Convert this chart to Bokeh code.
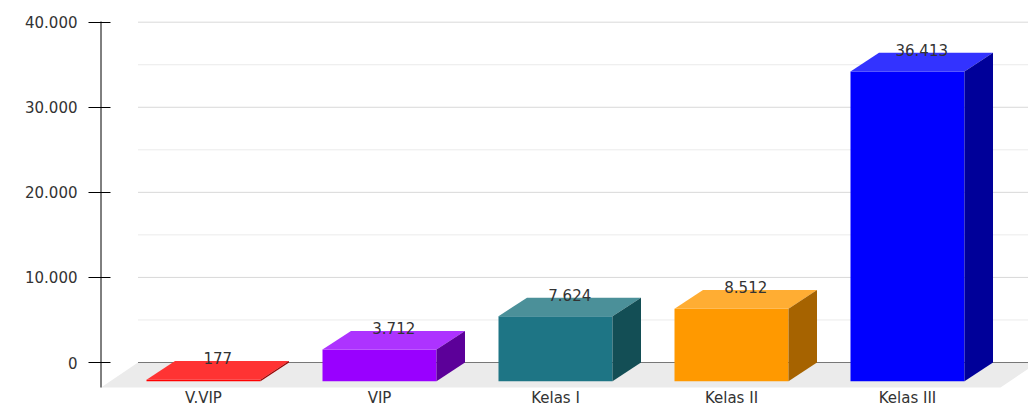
from bokeh.plotting import figure
from bokeh.models import FixedTicker, Range1d
from bokeh.core.properties import value
from bokeh.embed import file_html
from bokeh.resources import INLINE

# ---- data ----
categories = ["V.VIP", "VIP", "Kelas I", "Kelas II", "Kelas III"]
values = [177, 3712, 7624, 8512, 36413]
value_labels = ["177", "3.712", "7.624", "8.512", "36.413"]
front_colors = ["#FF0000", "#9900FF", "#1E7585", "#FF9900", "#0000FF"]
top_colors = ["#FF3333", "#AD33FF", "#4B9099", "#FFAD33", "#3333FF"]
side_colors = ["#990000", "#5C0099", "#134E55", "#A66300", "#000099"]
y_ticks = [0, 10000, 20000, 30000, 40000]
y_tick_labels = ["0", "10.000", "20.000", "30.000", "40.000"]
minor_grid = [5000, 15000, 25000, 35000]

FONT = "DejaVu Sans"
TXT = "#333333"
FS = "15px"

W, H = 1028, 408
frame_left = 99
cat_px = 176.0          # px per category unit
x0_px = 203.0           # canvas x of category 0 centre
u = 1.0 / cat_px        # one pixel in x units
x_start = (frame_left - x0_px) / cat_px
x_end = (W - x0_px) / cat_px

ppu = 340.3 / 40000.0   # px per value unit
zero_px = 362.0         # canvas y of back-wall zero
y_end = 40000 + (zero_px - 340.3) / ppu
y_start = -(H - zero_px) / ppu
vy = 1.0 / ppu          # one pixel in y units

p = figure(width=W, height=H, output_backend="svg", toolbar_location=None,
           x_range=Range1d(x_start, x_end), y_range=Range1d(y_start, y_end),
           min_border_left=frame_left, min_border_right=0, min_border_top=0,
           min_border_bottom=0, x_axis_location=None)
p.outline_line_color = None
p.background_fill_color = "white"
p.border_fill_color = "white"
p.xgrid.visible = False
p.ygrid.visible = False

ax = p.yaxis[0]
ax.ticker = FixedTicker(ticks=y_ticks)
ax.major_label_overrides = {t: l for t, l in zip(y_ticks, y_tick_labels)}
ax.axis_line_color = None
ax.major_tick_out = 11
ax.major_tick_in = 11
ax.major_tick_line_color = "#000000"
ax.minor_tick_line_color = None
ax.major_label_standoff = 11
ax.major_label_text_font = FONT
ax.major_label_text_font_size = FS
ax.major_label_text_color = TXT

# geometry (pixels -> data units)
floor_dx = 37 * u
floor_dy = 25 * vy
bar_w = 114 * u
bar_dx = 28.5 * u
bar_dy = 18.7 * vy
axis_x = x_start + 1.5 * u
floor_right = x_start + 901 * u

# floor
p.patch([axis_x, floor_right, floor_right + floor_dx, axis_x + floor_dx],
        [-floor_dy, -floor_dy, 0, 0], fill_color="#EBEBEB", line_color=None)

# grid lines on back wall
gx0 = axis_x + floor_dx
p.segment(x0=[gx0] * len(minor_grid), y0=minor_grid, x1=[x_end] * len(minor_grid), y1=minor_grid,
          line_color="#EBEBEB", line_width=1)
major = [t for t in y_ticks if t > 0]
p.segment(x0=[gx0] * len(major), y0=major, x1=[x_end] * len(major), y1=major,
          line_color="#D9D9D9", line_width=1)
p.segment(x0=[gx0], y0=[0], x1=[x_end], y1=[0], line_color="#777777", line_width=1)

# axis line
p.segment(x0=[axis_x], y0=[-floor_dy], x1=[axis_x], y1=[40000 + 0.7 * vy],
          line_color="#000000", line_width=1)

# 3D bars
xs = list(range(len(categories)))
front_l = [x - bar_w / 2 for x in xs]
front_r = [x + bar_w / 2 for x in xs]
p.quad(left=front_l, right=front_r, bottom=[-bar_dy] * len(xs),
       top=[v - bar_dy for v in values], fill_color=front_colors, line_color=None)
top_xs = [[l, r, r + bar_dx, l + bar_dx] for l, r in zip(front_l, front_r)]
top_ys = [[v - bar_dy, v - bar_dy, v, v] for v in values]
p.patches(top_xs, top_ys, fill_color=top_colors, line_color=None)
side_xs = [[r, r + bar_dx, r + bar_dx, r] for r in front_r]
side_ys = [[-bar_dy, 0, v, v - bar_dy] for v in values]
p.patches(side_xs, side_ys, fill_color=side_colors, line_color=None)

# value labels
p.text(x=[x + bar_dx / 2 for x in xs], y=values, text=value_labels,
       text_font=value(FONT), text_font_size=FS, text_color=TXT,
       text_align="center", text_baseline="middle", y_offset=-3)

# category labels
p.text(x=xs, y=[-floor_dy - 10 * vy] * len(xs), text=categories,
       text_font=value(FONT), text_font_size=FS, text_color=TXT,
       text_align="center", text_baseline="middle")

open("out.html", "w").write(file_html(p, INLINE))
